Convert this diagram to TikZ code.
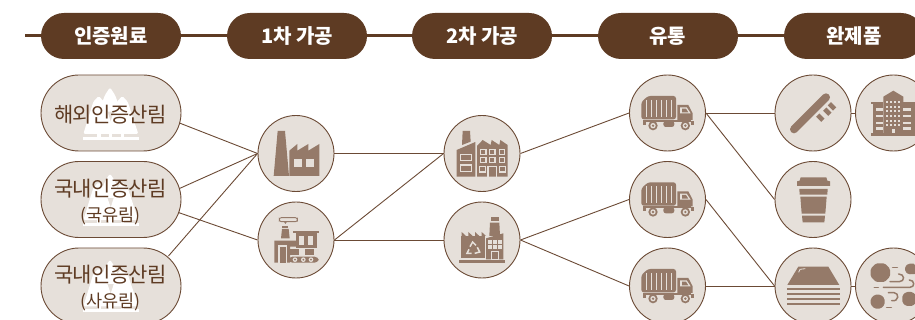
\documentclass[tikz,border=0pt]{standalone}
\usepackage{fontspec}
\setmainfont{Noto Sans CJK KR}
\usetikzlibrary{shapes.misc}
\definecolor{hd}{HTML}{5E3B23}
\definecolor{bg}{HTML}{E6E0DA}
\definecolor{bd}{HTML}{6B4A35}
\definecolor{ic}{HTML}{957A69}
\tikzset{
 x=1pt,y=-1pt,
 head/.style={rounded rectangle,fill=hd,text=white,minimum width=140pt,minimum height=46pt,inner sep=0pt,font=\fontsize{20}{22}\selectfont\bfseries\addfontfeature{LetterSpace=-1}},
 pill/.style={rounded rectangle,draw=bd,fill=bg,line width=.9pt,minimum width=140pt,minimum height=76pt,inner sep=0pt},
 circ/.style={circle,draw=bd,fill=bg,line width=.9pt,minimum size=76pt,inner sep=0pt},
 conn/.style={draw=bd,line width=.9pt},
 lbl/.style={text=hd,font=\fontsize{21}{23}\selectfont\addfontfeature{LetterSpace=-3.5},inner sep=0pt},
 sub/.style={text=hd,font=\fontsize{17.5}{20}\selectfont\addfontfeature{LetterSpace=-1},inner sep=0pt},
 z1/.style={scale=1/3},
 z2/.style={shift={(240,100)},scale=1/3},
 z3/.style={shift={(620,70)},scale=1/3},
 holeline/.style={draw=bg,line width=1.2pt},
}
\newcommand{\trees}[1]{%
 \begin{scope}[z1,shift={(0,#1)},fill=white]
  \fill[rounded corners=1.5pt] (330,262) -- (345,285) -- (364,335) -- (296,335) -- (315,285) -- cycle;
  \fill[rounded corners=1.5pt] (296,288) -- (312,305) -- (345,402) -- (250,402) -- (280,305) -- cycle;
  \fill[rounded corners=1.5pt] (367,288) -- (383,305) -- (415,402) -- (320,402) -- (351,305) -- cycle;
  \fill (292,400) rectangle (302,412);
  \fill (326,400) rectangle (336,412);
  \fill (362,400) rectangle (372,412);
  \fill (248,410) rectangle (418,419);
 \end{scope}}
\newcommand{\truck}[1]{%
 \begin{scope}[z3,shift={(0,#1)}]
  \fill[ic,rounded corners=2.5pt] (84,78) -- (168,78) -- (168,148) -- (64,148) -- (64,96) -- cycle;
  \foreach \q in {80,95,110,125,140,155}{\draw[holeline] (\q,90) -- (\q,140);}
  \fill[ic] (172,105) -- (205,105) -- (218,130) -- (218,150) -- (172,150) -- cycle;
  \fill[bg] (180,112) -- (200,112) -- (212,130) -- (180,130) -- cycle;
  \fill[ic] (186,116) -- (198,116) -- (205,127) -- (186,127) -- cycle;
  \fill[ic] (68,150) rectangle (78,164);
  \fill[ic] (212,152) rectangle (223,164);
  \fill[ic] (78,150) rectangle (212,156);
  \fill[ic,rounded corners=2.5pt] (130,153) rectangle (163,171);
  \foreach \q in {99,196}{
   \fill[ic] (\q,167) circle (14);
   \fill[bg] (\q,167) circle (8);
   \fill[ic] (\q,167) circle (4);
  }
 \end{scope}}
\begin{document}
\begin{tikzpicture}
\useasboundingbox (0,0) rectangle (915,320);
\clip (0,0) rectangle (915,320);
\coordinate (lstart) at (25,35.5);
\coordinate (lend) at (915,35.5);
\draw[hd,line width=2.2pt] (lstart) -- (lend);
\node[head] (h1) at (111,36) {인증원료};
\node[head] (h2) at (297,36) {1차 가공};
\node[head] (h3) at (482,36) {2차 가공};
\node[head] (h4) at (668,36) {유통};
\node[head] (h5) at (854,36) {완제품};

\node[pill] (p1) at (111,113) {};
\node[pill] (p2) at (111,199.5) {};
\node[pill] (p3) at (111,286) {};
\node[circ] (c1) at (296,153.5) {};
\node[circ] (c2) at (296,240) {};
\node[circ] (d1) at (482,153.5) {};
\node[circ] (d2) at (482,240) {};
\node[circ] (t1) at (667.5,113) {};
\node[circ] (t2) at (667.5,199.5) {};
\node[circ] (t3) at (667.5,286) {};
\node[circ] (f1) at (813,113) {};
\node[circ] (f2) at (813,199.5) {};
\node[circ] (f3) at (813,286) {};
\node[circ] (g1) at (893.5,113) {};
\node[circ] (g2) at (893.5,286) {};

\draw[conn] ([shift={(-2,10)}]p1.east) -- (c1.west);
\draw[conn] ([shift={(-2,-11)}]p2.east) -- (c1.west);
\draw[conn] ([shift={(-3,13)}]p2.east) -- (c2.west);
\draw[conn] ([shift={(-13,-30)}]p3.east) -- (c1.west);
\draw[conn] (c1.east) -- (d1.west);
\draw[conn] (c2.east) -- (d1.west);
\draw[conn] (c2.east) -- (d2.west);
\draw[conn] (d1.east) -- (t1.west);
\draw[conn] (d2.east) -- (t2.west);
\draw[conn] (d2.east) -- (t3.west);
\draw[conn] (t1.east) -- (f1.west);
\draw[conn] (t1.east) -- (f2.west);
\draw[conn] (t2.east) -- (f3.west);
\draw[conn] (t3.east) -- (f3.west);
\draw[conn] (f1.east) -- (g1.west);
\draw[conn] (f3.east) -- (g2.west);

\trees{0}\trees{258.5}\trees{517}
\node[lbl] (l1) at (110.5,115) {해외인증산림};
\node[lbl] (l2) at (110.5,188.5) {국내인증산림};
\node[sub] (s2) at (110.5,216) {(국유림)};
\node[lbl] (l3) at (110.5,274.5) {국내인증산림};
\node[sub] (s3) at (110.5,302) {(사유림)};

\begin{scope}[z2,ic]
 \fill (113,93) -- (135,93) -- (147,228) -- (101,228) -- cycle;
 \fill (148,152) -- (172,132) -- (172,152) -- (205,132) -- (205,152) -- (238,132) -- (238,228) -- (152,228) -- (148,228) -- cycle;
 \fill[bg] (163,178) rectangle (187,200);
 \fill[bg] (198,178) rectangle (222,200);
\end{scope}
\begin{scope}[z2,ic]
 \draw[line width=.9pt,rounded corners=2pt] (118,353) rectangle (172,365);
 \fill (132,365) -- (141,365) -- (136,372) -- cycle;
 \fill (127,378) rectangle (145,384);
 \fill (126,387) -- (146,387) -- (149,415) -- (123,415) -- cycle;
 \fill (103,422) -- (175,422) -- (175,440) -- (150,440) -- (150,488) -- (103,488) -- cycle;
 \fill[bg] (115,435) rectangle (140,488);
 \fill (120,440) rectangle (138,488);
 \fill (160,393) rectangle (238,400);
 \fill (167,400) rectangle (230,445);
 \fill[bg] (178,408) rectangle (192,436);
 \fill[bg] (205,408) rectangle (220,436);
 \fill (150,447) rectangle (178,465);
 \fill (195,447) rectangle (222,465);
 \fill[rounded corners=4pt] (145,470) rectangle (236,488);
 \foreach \q in {165,190,213}{\fill[bg] (\q,479) circle (7); \fill (\q,479) circle (3);}
\end{scope}
\begin{scope}[z2,ic]
 \fill (668,93) -- (690,93) -- (692,125) -- (666,135) -- cycle;
 \fill (650,150) -- (706,126) -- (706,230) -- (650,230) -- cycle;
 \draw[holeline] (661,163) rectangle (695,182);
 \draw[holeline] (661,195) rectangle (695,214);
 \fill (711,138) -- (728,120) -- (752,135) -- (755,120) -- (778,135) -- (781,120) -- (803,135) -- (803,230) -- (711,230) -- cycle;
 \foreach \a in {722,749,778}{\foreach \b in {148,172}{\draw[holeline] (\a,\b) rectangle (\a+16,\b+15);}}
 \draw[holeline] (719,199) rectangle (737,216);
 \draw[holeline] (779,199) rectangle (797,216);
 \draw[holeline] (744,200) rectangle (770,232);
\end{scope}
\begin{scope}[z2,ic]
 \fill (752,352) rectangle (776,364);
 \fill (750,368) -- (778,368) -- (780,408) -- (748,408) -- cycle;
 \fill (738,415) -- (790,400) -- (790,478) -- (738,478) -- cycle;
 \foreach \a in {745,760,775}{\foreach \b in {421,436}{\fill[bg] (\a,\b) rectangle (\a+10,\b+10);}}
 \draw[holeline] (755,455) rectangle (775,478);
 \fill (663,408) -- (735,408) -- (735,473) -- (663,473) -- cycle;
 \foreach \a in {665,685,705,725}{\fill (\a,396) -- (\a,408) -- (\a+13,408) -- cycle;}
 \fill (658,480) rectangle (795,488);
 \begin{scope}[bg,line width=1.5pt,line cap=butt]
  \draw (690,440) -- (698,426) -- (708,436);
  \draw (712,442) -- (719,456) -- (704,460);
  \draw (695,460) -- (681,460) -- (687,448);
 \end{scope}
\end{scope}
\truck{0}\truck{259}\truck{519}
\begin{scope}[z3,ic]
 \draw[line width=8pt,line cap=round] (522,178) -- (618,82);
 \foreach \a/\b in {601/143,622/125,636/109}{
  \fill[rotate around={45:(\a,\b)}] (\a-7,\b-11) rectangle (\a+7,\b+11);
 }
\end{scope}
\begin{scope}[z3,ic]
 \fill (542,322) -- (619,322) -- (622,332) -- (630,334) -- (630,348) -- (531,348) -- (531,334) -- (539,332) -- cycle;
 \fill (538,357) -- (623,357) -- (622,374) -- (539,374) -- cycle;
 \fill (541,380) -- (620,380) -- (616,431) -- (545,431) -- cycle;
 \fill (546,437) -- (615,437) -- (613,457) -- (548,457) -- cycle;
\end{scope}
\begin{scope}[z3,ic]
 \fill (535,590) -- (625,590) -- (658,645) -- (502,645) -- cycle;
 \draw[holeline,line width=.8pt] (536,607) -- (540,598) -- (556,596);
 \foreach \b in {653,668,683,698}{\fill (502,\b) rectangle (660,\b+8);}
\end{scope}
\begin{scope}[z3,ic]
 \fill (790,80) -- (820,62) -- (850,80) -- (850,192) -- (790,192) -- cycle;
 \foreach \a in {802,814,826,838}{\foreach \b in {96,110,124,138,152,165}{\fill[bg] (\a-3,\b-3) rectangle (\a+3,\b+3);}}
 \fill[bg] (815,177) rectangle (825,190);
 \fill (753,95) rectangle (790,103);
 \fill (760,103) rectangle (790,192);
 \foreach \b in {115,135,155,172}{\fill[bg] (768,\b) rectangle (790,\b+7);}
 \fill (850,95) rectangle (890,103);
 \fill (850,103) rectangle (885,192);
 \foreach \b in {115,135,155,172}{\fill[bg] (850,\b) rectangle (872,\b+7);}
 \fill (752,190) rectangle (890,197);
\end{scope}
\begin{scope}[z3,ic]
 \fill[rounded corners=1.5pt] (768,580) -- (794,580) -- (810,596) -- (810,620) -- (794,636) -- (768,636) -- (752,620) -- (752,596) -- cycle;
 \fill[rounded corners=1.5pt] (865,581) -- (885,581) -- (888,612) -- (865,613) -- (855,604) -- (855,590) -- cycle;
 \fill[rounded corners=1.5pt] (764,674) -- (782,674) -- (794,686) -- (794,704) -- (782,716) -- (764,716) -- (752,704) -- (752,686) -- cycle;
 \fill[rounded corners=1.5pt] (858,666) -- (878,666) -- (888,676) -- (888,698) -- (878,708) -- (858,708) -- (847,698) -- (847,676) -- cycle;
 \draw[line width=1.5pt,line cap=round] (818,592) -- (832,592);
 \draw[line width=1.5pt,line cap=round] (800,712) -- (814,712);
 \draw[line width=1.5pt,line cap=round] (763,652) -- (775,652);
 \draw[line width=1.5pt,line cap=round] (790,652) -- (870,652) .. controls (885,652) and (885,630) .. (868,630);
 \draw[line width=1.5pt,line cap=round] (810,635) -- (838,635) .. controls (855,635) and (855,612) .. (836,612);
 \draw[line width=1.5pt,line cap=round] (805,668) -- (822,668) .. controls (838,668) and (838,696) .. (815,692);
\end{scope}
\end{tikzpicture}
\end{document}
